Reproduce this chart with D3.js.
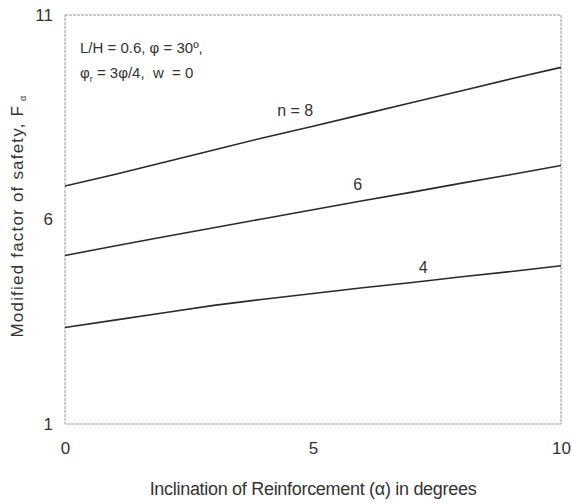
<!DOCTYPE html>
<html>
<head>
<meta charset="utf-8">
<script src="https://cdn.jsdelivr.net/npm/d3@7"></script>
<style>
  body { margin: 0; background: #fff; }
  svg { display: block; }
  text { fill: #333; font-family: "Liberation Sans", Arial, sans-serif; white-space: pre; }
</style>
</head>
<body>
<svg id="chart" width="572" height="503"></svg>
<script>
// values
var alphaDeg = [0, 1, 2, 3, 4, 5, 6, 7, 8, 9, 10];
var fsN8 = [6.82, 7.10, 7.40, 7.70, 8.00, 8.28, 8.57, 8.86, 9.15, 9.44, 9.72];
var fsN6 = [5.12, 5.35, 5.58, 5.80, 6.02, 6.24, 6.46, 6.67, 6.89, 7.10, 7.32];
var fsN4 = [3.36, 3.54, 3.72, 3.90, 4.05, 4.19, 4.33, 4.46, 4.60, 4.73, 4.87];
var seriesNames = ["n = 8", "6", "4"];
var xTicks = [0, 5, 10];
var yTicks = [1, 6, 11];

var svg = d3.select("#chart"),
  margin = { top: 15, right: 11, bottom: 79, left: 65 };

var width = +svg.attr("width") - margin.left - margin.right,
  height = +svg.attr("height") - margin.top - margin.bottom;

var x = d3.scaleLinear().domain([0, 10]).range([0, width]),
  y = d3.scaleLinear().domain([1, 11]).range([height, 0]);

var g = svg.append("g")
  .attr("transform", "translate(" + margin.left + "," + margin.top + ")");

// frame
g.append("rect")
  .attr("width", width)
  .attr("height", height)
  .attr("fill", "none")
  .attr("stroke", "#999")
  .attr("stroke-width", 1)
  .attr("stroke-dasharray", "3,1");

var xAxis = g.append("g")
  .attr("transform", "translate(0," + height + ")")
  .call(d3.axisBottom(x).tickValues(xTicks).tickSize(0).tickPadding(18));
xAxis.select(".domain").remove();
xAxis.selectAll("text")
  .style("font-family", "'Liberation Sans', Arial, sans-serif")
  .style("font-size", "17px")
  .style("fill", "#333");

var yAxis = g.append("g")
  .call(d3.axisLeft(y).tickValues(yTicks).tickSize(0).tickPadding(12));
yAxis.select(".domain").remove();
yAxis.selectAll("text")
  .style("font-family", "'Liberation Sans', Arial, sans-serif")
  .style("font-size", "17px")
  .style("fill", "#333");

var line = d3.line()
  .x(function(d, i) { return x(alphaDeg[i]); })
  .y(function(d) { return y(d); });

[fsN8, fsN6, fsN4].forEach(function(s) {
  g.append("path")
    .datum(s)
    .attr("fill", "none")
    .attr("stroke", "#2a2a2a")
    .attr("stroke-width", 1.6)
    .attr("d", line);
});

// curve labels
var labelPos = [[4.64, 8.52], [5.9, 6.72], [7.22, 4.68]];
seriesNames.forEach(function(name, i) {
  g.append("text")
    .attr("x", x(labelPos[i][0]))
    .attr("y", y(labelPos[i][1]))
    .attr("text-anchor", "middle")
    .style("font-size", "16px")
    .text(name);
});

// parameters note
var note = g.append("text")
  .style("font-size", "15px");
note.append("tspan").attr("x", 15).attr("y", 38).text("L/H = 0.6, \u03c6 = 30\u00ba,");
var l2 = note.append("tspan").attr("x", 15).attr("y", 63);
l2.append("tspan").text("\u03c6");
l2.append("tspan").attr("dy", 4).style("font-size", "9px").text("r");
l2.append("tspan").attr("dy", -4).text(" = 3\u03c6/4,  w  = 0");

// axis titles
svg.append("text")
  .attr("x", margin.left + width / 2)
  .attr("y", 495)
  .attr("text-anchor", "middle")
  .style("font-size", "18px")
  .style("letter-spacing", "-0.3px")
  .text("Inclination of Reinforcement (\u03b1) in degrees");

var yt = svg.append("text")
  .attr("transform", "translate(23,216) rotate(-90)")
  .attr("text-anchor", "middle")
  .style("font-size", "17px")
  .style("letter-spacing", "1.2px");
yt.append("tspan").text("Modified factor of safety, F");
yt.append("tspan").attr("dx", 4).attr("dy", 3).style("font-size", "9px").text("\u03b1");
</script>
</body>
</html>
